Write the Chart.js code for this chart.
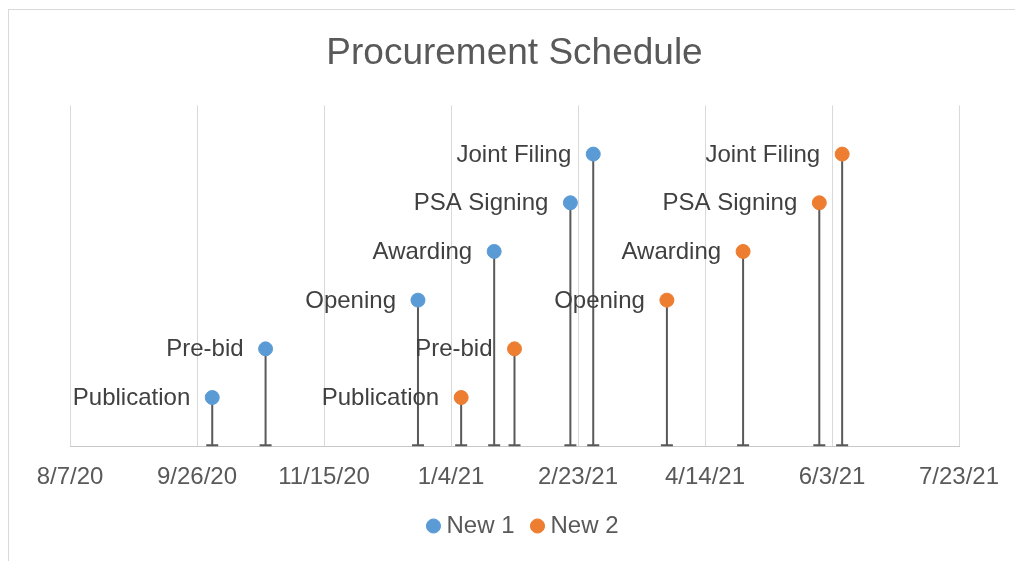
<!DOCTYPE html>
<html>
<head>
<meta charset="utf-8">
<script src="https://cdn.jsdelivr.net/npm/chart.js@4"></script>
<style>
  html, body { margin: 0; padding: 0; background: #fff; overflow: hidden; }
  #wrap { position: relative; width: 1015px; height: 561px; }
  #frame { position: absolute; left: 8px; top: 9px; width: 1100px; height: 700px; border: 1px solid #d9d9d9; pointer-events: none; }
  canvas { position: absolute; left: 0; top: 0; }
</style>
</head>
<body>
<div id="wrap">
  <canvas id="chart" width="1015" height="561"></canvas>
  <div id="frame"></div>
</div>
<script>
// Data
const milestones = ['Publication', 'Pre-bid', 'Opening', 'Awarding', 'PSA Signing', 'Joint Filing'];
const levels = [1, 2, 3, 4, 5, 6];
const new1Dates = ['2020-10-02', '2020-10-23', '2020-12-22', '2021-01-21', '2021-02-20', '2021-03-01'];
const new2Dates = ['2021-01-08', '2021-01-29', '2021-03-30', '2021-04-29', '2021-05-29', '2021-06-07'];
const axisStart = '2020-08-07';
const axisEnd = '2021-07-23';
const axisStepDays = 50;

// Excel-style serial day numbers
function toSerial(s) {
    const [y, m, d] = s.split('-').map(Number);
    return Math.round((Date.UTC(y, m - 1, d) - Date.UTC(1899, 11, 30)) / 86400000);
}

function formatSerial(v) {
    const dt = new Date(Date.UTC(1899, 11, 30) + v * 86400000);
    return (dt.getUTCMonth() + 1) + '/' + dt.getUTCDate() + '/' + String(dt.getUTCFullYear()).slice(2);
}

function toPoints(dates) {
    return dates.map((d, i) => ({ x: toSerial(d), y: levels[i], label: milestones[i] }));
}

const FONT = "'Liberation Sans', Arial, sans-serif";

// Drop lines (like Excel minus error bars) and data labels
const timelinePlugin = {
    id: 'timeline',
    afterLayout(chart) {
        // nudge legend to where Excel puts it
        const lg = chart.legend;
        lg.left += 11; lg.right += 11;
        lg.top -= 17; lg.bottom -= 17;
    },
    beforeDatasetsDraw(chart) {
        const ctx = chart.ctx;
        const yScale = chart.scales.y;
        const base = yScale.getPixelForValue(0);
        ctx.save();
        ctx.strokeStyle = '#595959';
        ctx.lineWidth = 2;
        chart.data.datasets.forEach((ds, i) => {
            chart.getDatasetMeta(i).data.forEach(pt => {
                ctx.beginPath();
                ctx.moveTo(pt.x, pt.y);
                ctx.lineTo(pt.x, base - 1);
                ctx.moveTo(pt.x - 6, base - 1);
                ctx.lineTo(pt.x + 6, base - 1);
                ctx.stroke();
            });
        });
        ctx.restore();
    },
    afterDatasetsDraw(chart) {
        const ctx = chart.ctx;
        ctx.save();
        ctx.font = '24px ' + FONT;
        ctx.fillStyle = '#404040';
        ctx.textAlign = 'right';
        ctx.textBaseline = 'middle';
        chart.data.datasets.forEach((ds, i) => {
            chart.getDatasetMeta(i).data.forEach((pt, j) => {
                ctx.fillText(ds.data[j].label, pt.x - 22, pt.y + 1);
            });
        });
        ctx.restore();
    }
};

new Chart(document.getElementById('chart'), {
    type: 'scatter',
    data: {
        datasets: [
            {
                label: 'New 1',
                data: toPoints(new1Dates),
                backgroundColor: '#5b9bd5',
                borderColor: '#5b9bd5',
                pointRadius: 7,
                pointStyle: 'circle'
            },
            {
                label: 'New 2',
                data: toPoints(new2Dates),
                backgroundColor: '#ed7d31',
                borderColor: '#ed7d31',
                pointRadius: 7,
                pointStyle: 'circle'
            }
        ]
    },
    options: {
        responsive: false,
        animation: false,
        layout: { padding: { left: 70, right: 56, top: 0, bottom: -4 } },
        plugins: {
            title: {
                display: true,
                text: 'Procurement Schedule',
                color: '#595959',
                font: { family: FONT, size: 37, weight: 'normal' },
                padding: { top: 32, bottom: 29 }
            },
            legend: {
                position: 'bottom',
                labels: {
                    usePointStyle: true,
                    pointStyle: 'circle',
                    boxWidth: 2,
                    boxHeight: 10,
                    padding: 22,
                    color: '#595959',
                    font: { family: FONT, size: 24 }
                }
            },
            tooltip: { enabled: false }
        },
        scales: {
            x: {
                type: 'linear',
                min: toSerial(axisStart),
                max: toSerial(axisEnd),
                afterFit: s => { s.paddingLeft = 0; s.paddingRight = 0; },
                ticks: {
                    stepSize: axisStepDays,
                    padding: 17,
                    color: '#595959',
                    font: { family: FONT, size: 24 },
                    callback: v => formatSerial(v)
                },
                grid: { color: '#d9d9d9', lineWidth: 1, drawTicks: false },
                border: { color: '#c8c8c8', width: 1 }
            },
            y: {
                display: false,
                min: 0,
                max: 7
            }
        }
    },
    plugins: [timelinePlugin]
});
</script>
</body>
</html>
